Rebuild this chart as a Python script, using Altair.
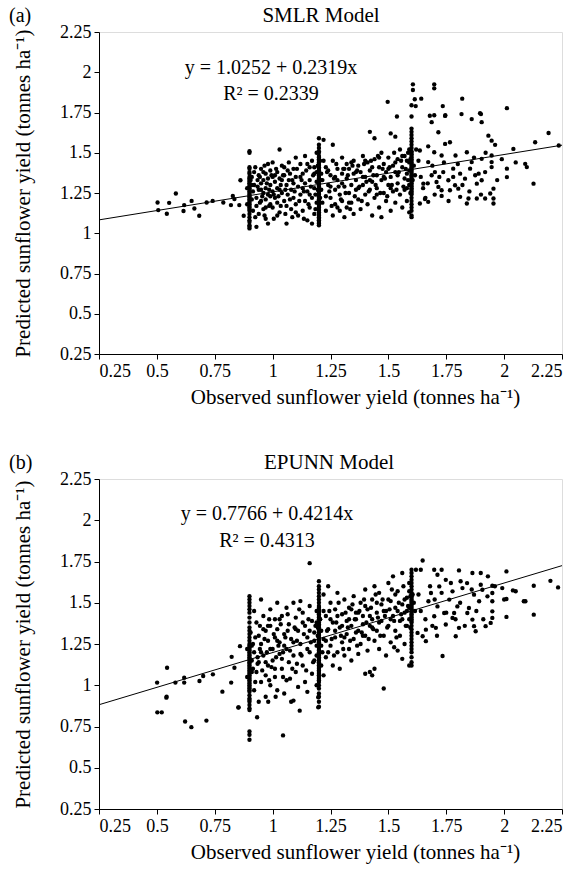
import altair as alt
import pandas as pd

FONT = "Liberation Serif"

# ---------------- Panel (a): SMLR Model ----------------
a_left = [(0.503, 1.191), (0.506, 1.144), (0.553, 1.189), (0.543, 1.121), (0.582, 1.247),
          (0.618, 1.175), (0.615, 1.138), (0.650, 1.201), (0.662, 1.154), (0.683, 1.109),
          (0.715, 1.191), (0.741, 1.201), (0.787, 1.191), (0.820, 1.175), (0.828, 1.232),
          (0.835, 1.212), (0.856, 1.175), (0.861, 1.329), (0.875, 1.109)]
a_col_090 = [1.51, 1.50, 1.41, 1.40, 1.38, 1.37, 1.35, 1.34, 1.33, 1.32, 1.31, 1.30, 1.29, 1.28,
             1.27, 1.26, 1.25, 1.24, 1.23, 1.22, 1.21, 1.20, 1.19, 1.18, 1.17, 1.16, 1.15, 1.14,
             1.12, 1.10, 1.08, 1.07, 1.05, 1.04, 1.03]
a_mid1 = [(0.92, 1.38), (0.92, 1.30), (0.93, 1.22), (0.93, 1.17), (0.93, 1.04), (0.94, 1.36),
          (0.94, 1.27), (0.94, 1.12), (0.95, 1.40), (0.95, 1.31), (0.95, 1.20), (0.96, 1.33),
          (0.96, 1.25), (0.96, 1.15), (0.97, 1.37), (0.97, 1.28), (0.97, 1.21), (0.97, 1.09),
          (0.98, 1.06), (0.98, 1.34), (0.98, 1.24), (0.99, 1.39), (0.99, 1.30), (0.99, 1.18),
          (1.00, 1.44), (1.00, 1.35), (1.00, 1.26), (1.00, 1.16), (1.01, 1.32), (1.01, 1.22),
          (1.02, 1.38), (1.02, 1.28), (1.02, 1.19), (1.03, 1.52), (1.03, 1.34), (1.03, 1.13),
          (1.04, 1.42), (1.04, 1.25), (1.05, 1.36), (1.05, 1.20), (1.06, 1.30), (1.06, 1.06),
          (1.06, 1.17), (1.07, 1.44), (1.07, 1.33), (1.08, 1.27), (1.08, 1.15), (1.09, 1.40),
          (1.09, 1.22), (1.10, 1.47), (1.10, 1.35), (1.10, 1.18), (1.11, 1.29), (1.11, 1.11),
          (1.12, 1.43), (1.12, 1.24), (1.13, 1.37), (1.13, 1.14), (1.14, 1.48), (1.14, 1.31),
          (1.14, 1.20), (1.15, 1.26), (1.15, 1.08), (1.16, 1.41), (1.16, 1.33), (1.16, 1.16),
          (1.17, 1.45), (1.17, 1.22), (1.17, 1.06), (1.18, 1.37), (1.18, 1.28), (1.18, 1.12),
          (1.19, 1.50), (1.19, 1.19)]
a_mid1b = [(0.905, 1.33), (0.915, 1.26), (0.915, 1.14), (0.925, 1.41), (0.935, 1.29),
           (0.945, 1.19), (0.945, 1.35), (0.955, 1.23), (0.965, 1.42), (0.965, 1.11),
           (0.975, 1.31), (0.985, 1.17), (0.985, 1.27), (0.995, 1.36), (1.005, 1.24),
           (1.005, 1.09), (1.015, 1.40), (1.025, 1.23), (1.035, 1.30), (1.035, 1.17),
           (1.045, 1.36), (1.055, 1.27), (1.055, 1.12), (1.065, 1.39), (1.075, 1.21),
           (1.085, 1.33), (1.085, 1.10), (1.095, 1.26), (1.105, 1.40), (1.115, 1.20),
           (1.125, 1.33), (1.135, 1.26), (1.135, 1.09), (1.145, 1.39), (1.155, 1.18),
           (1.165, 1.29), (1.175, 1.36), (1.185, 1.24), (1.185, 1.15), (1.195, 1.42)]
a_col_120 = [1.59, 1.55, 1.53, 1.51, 1.50, 1.48, 1.47, 1.46, 1.45, 1.44, 1.43, 1.42, 1.41, 1.40,
             1.39, 1.38, 1.37, 1.36, 1.35, 1.34, 1.33, 1.32, 1.31, 1.30, 1.29, 1.28, 1.27, 1.26,
             1.25, 1.24, 1.23, 1.22, 1.21, 1.20, 1.19, 1.18, 1.17, 1.16, 1.15, 1.14, 1.13, 1.12,
             1.11, 1.10, 1.09, 1.08, 1.07, 1.06, 1.05]
a_mid2 = [(1.22, 1.58), (1.23, 1.41), (1.23, 1.14), (1.24, 1.30), (1.25, 1.36), (1.25, 1.22),
          (1.26, 1.55), (1.26, 1.45), (1.26, 1.11), (1.27, 1.27), (1.27, 1.18), (1.28, 1.40),
          (1.28, 1.33), (1.29, 1.24), (1.29, 1.14), (1.30, 1.47), (1.30, 1.37), (1.30, 1.20),
          (1.31, 1.29), (1.31, 1.10), (1.32, 1.43), (1.32, 1.34), (1.32, 1.16), (1.33, 1.25),
          (1.33, 1.40), (1.34, 1.30), (1.34, 1.19), (1.35, 1.45), (1.35, 1.37), (1.35, 1.12),
          (1.36, 1.27), (1.36, 1.33), (1.37, 1.42), (1.37, 1.21), (1.38, 1.38), (1.38, 1.15),
          (1.39, 1.48), (1.39, 1.30), (1.40, 1.24), (1.40, 1.35), (1.41, 1.44), (1.41, 1.18),
          (1.42, 1.63), (1.42, 1.39), (1.42, 1.27), (1.43, 1.32), (1.43, 1.11), (1.44, 1.59),
          (1.44, 1.46), (1.44, 1.22), (1.45, 1.36), (1.45, 1.28), (1.46, 1.41), (1.46, 1.16),
          (1.47, 1.50), (1.47, 1.33), (1.47, 1.10), (1.48, 1.25), (1.48, 1.43), (1.49, 1.38),
          (1.49, 1.20), (1.50, 1.47), (1.50, 1.30), (1.51, 1.62), (1.51, 1.35), (1.51, 1.14),
          (1.52, 1.42), (1.52, 1.26), (1.53, 1.60), (1.53, 1.38), (1.53, 1.19), (1.54, 1.46),
          (1.54, 1.31), (1.55, 1.52), (1.55, 1.24), (1.56, 1.41), (1.56, 1.16), (1.57, 1.48),
          (1.57, 1.34), (1.58, 1.45), (1.58, 1.28), (1.58, 1.20), (1.59, 1.39), (1.59, 1.52),
          (1.59, 1.13)]
a_mid2b = [(1.205, 1.45), (1.215, 1.33), (1.215, 1.19), (1.235, 1.38), (1.245, 1.26),
           (1.255, 1.17), (1.265, 1.34), (1.275, 1.43), (1.285, 1.29), (1.295, 1.21),
           (1.305, 1.40), (1.315, 1.25), (1.325, 1.36), (1.335, 1.15), (1.345, 1.42),
           (1.355, 1.23), (1.365, 1.39), (1.375, 1.29), (1.385, 1.20), (1.395, 1.43),
           (1.405, 1.32), (1.415, 1.26), (1.425, 1.45), (1.435, 1.36), (1.445, 1.30),
           (1.455, 1.48), (1.465, 1.25), (1.475, 1.40), (1.485, 1.34), (1.495, 1.23),
           (1.505, 1.41), (1.515, 1.30), (1.525, 1.50), (1.535, 1.27), (1.545, 1.38),
           (1.555, 1.45), (1.565, 1.29), (1.575, 1.40), (1.585, 1.33), (1.595, 1.46)]
a_mid3 = [(0.91, 1.35), (0.91, 1.21), (0.925, 1.10), (0.935, 1.33), (0.95, 1.27), (0.96, 1.38),
          (0.97, 1.16), (0.98, 1.43), (0.99, 1.23), (1.01, 1.36), (1.02, 1.11), (1.03, 1.27),
          (1.04, 1.33), (1.05, 1.41), (1.065, 1.24), (1.075, 1.37), (1.09, 1.31), (1.10, 1.13),
          (1.12, 1.35), (1.13, 1.28), (1.15, 1.43), (1.16, 1.24), (1.18, 1.41), (1.19, 1.32),
          (1.21, 1.37), (1.21, 1.27), (1.22, 1.45), (1.23, 1.23), (1.24, 1.39), (1.25, 1.29),
          (1.27, 1.35), (1.28, 1.16), (1.30, 1.31), (1.31, 1.40), (1.33, 1.19), (1.34, 1.44),
          (1.36, 1.38), (1.37, 1.28), (1.39, 1.35), (1.40, 1.45), (1.42, 1.33), (1.43, 1.41),
          (1.45, 1.24), (1.46, 1.47), (1.48, 1.35), (1.50, 1.40), (1.51, 1.28), (1.53, 1.44),
          (1.54, 1.36), (1.56, 1.48), (1.57, 1.27), (1.58, 1.37), (1.59, 1.44), (1.61, 1.42),
          (1.615, 1.36), (1.59, 1.30), (1.585, 1.50), (1.19, 1.38), (1.21, 1.33), (0.89, 1.28),
          (0.89, 1.18), (0.91, 1.30), (1.195, 1.27), (1.205, 1.22), (1.605, 1.33), (1.595, 1.25)]
a_col_160 = [1.65, 1.63, 1.61, 1.59, 1.57, 1.55, 1.53, 1.51, 1.50, 1.49, 1.48, 1.47, 1.46, 1.45,
             1.44, 1.43, 1.42, 1.41, 1.40, 1.39, 1.38, 1.37, 1.36, 1.35, 1.34, 1.33, 1.32, 1.31,
             1.30, 1.29, 1.28, 1.27, 1.26, 1.25, 1.24, 1.22, 1.20, 1.18, 1.16, 1.14, 1.11, 1.10]
a_top = [(1.497, 1.816), (1.606, 1.925), (1.606, 1.89), (1.698, 1.925), (1.698, 1.90),
         (1.614, 1.832), (1.642, 1.836), (1.618, 1.79), (1.60, 1.795), (1.735, 1.79),
         (1.819, 1.836), (2.012, 1.777), (1.537, 1.725), (1.60, 1.725), (1.698, 1.733),
         (1.746, 1.733), (1.90, 1.74)]
a_right = [(1.636, 1.514), (1.672, 1.54), (1.679, 1.73), (1.687, 1.69), (1.716, 1.627),
           (1.745, 1.729), (1.745, 1.555), (1.766, 1.565), (1.816, 1.74), (1.86, 1.709),
           (1.896, 1.746), (1.903, 1.69), (1.932, 1.606), (1.946, 1.575), (1.961, 1.549),
           (2.04, 1.524), (2.098, 1.411), (2.134, 1.565), (2.192, 1.623), (2.236, 1.545),
           (2.127, 1.308), (2.091, 1.431), (2.012, 1.401), (2.012, 1.349), (1.954, 1.277),
           (1.954, 1.216), (1.954, 1.185), (1.94, 1.247), (1.918, 1.216), (1.882, 1.308),
           (1.882, 1.216), (1.846, 1.216), (1.839, 1.185), (1.81, 1.226), (1.802, 1.277),
           (1.766, 1.267), (1.73, 1.267), (1.73, 1.232), (1.708, 1.318), (1.687, 1.36),
           (1.672, 1.195), (1.658, 1.212), (1.636, 1.185), (1.651, 1.308), (1.672, 1.442),
           (1.701, 1.38), (1.737, 1.38), (1.78, 1.401), (1.81, 1.37), (1.853, 1.401),
           (1.875, 1.36), (1.903, 1.329), (1.918, 1.38), (1.946, 1.411), (1.946, 1.442),
           (1.946, 1.483), (1.903, 1.462), (1.86, 1.442), (1.839, 1.503), (1.79, 1.483),
           (1.73, 1.483), (1.698, 1.503), (1.89, 1.37), (1.831, 1.339), (1.759, 1.329),
           (1.716, 1.288), (1.788, 1.298), (1.99, 1.46), (1.63, 1.45), (1.64, 1.35),
           (1.65, 1.28), (1.62, 1.52), (1.66, 1.22), (1.67, 1.31), (1.69, 1.42), (1.70, 1.24),
           (1.72, 1.35), (1.74, 1.44), (1.76, 1.20), (1.78, 1.35), (1.80, 1.43), (1.82, 1.30),
           (1.85, 1.26), (1.87, 1.47), (1.90, 1.24), (1.92, 1.50), (1.97, 1.33), (2.05, 1.44)]
a_line_x = [0.25, 2.25]
a_line_y = [1.083, 1.547]
a_eq = ["y = 1.0252 + 0.2319x", "R\u00b2 = 0.2339"]

# ---------------- Panel (b): EPUNN Model ----------------
b_left = [(0.501, 1.016), (0.544, 1.106), (0.541, 0.925), (0.58, 1.016), (0.618, 1.016),
          (0.618, 1.046), (0.684, 1.026), (0.70, 1.056), (0.742, 1.066), (0.783, 0.961),
          (0.821, 1.016), (0.823, 1.172), (0.835, 1.106), (0.859, 1.237), (0.852, 0.865),
          (0.502, 0.836), (0.521, 0.836), (0.542, 0.93), (0.622, 0.78), (0.649, 0.746),
          (0.714, 0.786)]
b_low = [(0.853, 0.866), (0.933, 0.806), (1.045, 0.696), (0.981, 0.90), (1.013, 0.93),
         (1.09, 0.907), (1.117, 0.846), (1.197, 0.866), (1.197, 0.927)]
b_col_090 = [1.54, 1.52, 1.50, 1.48, 1.46, 1.44, 1.41, 1.38, 1.35, 1.33, 1.31, 1.29, 1.27, 1.25,
             1.24, 1.23, 1.22, 1.21, 1.20, 1.19, 1.18, 1.17, 1.16, 1.15, 1.14, 1.13, 1.12, 1.11,
             1.10, 1.09, 1.08, 1.07, 1.06, 1.05, 1.04, 1.03, 1.02, 1.01, 1.00, 0.99, 0.98, 0.97,
             0.96, 0.94, 0.92, 0.91, 0.90, 0.88, 0.86, 0.85, 0.72, 0.70, 0.67]
b_mid1 = [(0.92, 1.45), (0.92, 1.20), (0.92, 0.97), (0.93, 1.38), (0.93, 1.08), (0.94, 1.30),
          (0.94, 1.14), (0.94, 0.90), (0.95, 1.52), (0.95, 1.25), (0.95, 1.02), (0.96, 1.42),
          (0.96, 1.18), (0.97, 1.33), (0.97, 1.06), (0.97, 0.93), (0.98, 1.27), (0.98, 1.12),
          (0.99, 1.46), (0.99, 1.36), (0.99, 1.00), (1.00, 1.22), (1.00, 1.15), (1.01, 1.40),
          (1.01, 1.29), (1.01, 1.05), (1.02, 1.50), (1.02, 1.34), (1.02, 0.97), (1.03, 1.19),
          (1.03, 1.26), (1.04, 1.42), (1.04, 1.10), (1.05, 1.31), (1.05, 0.95), (1.06, 1.47),
          (1.06, 1.22), (1.06, 1.03), (1.07, 1.37), (1.07, 1.14), (1.08, 1.28), (1.08, 0.90),
          (1.09, 1.50), (1.09, 1.18), (1.10, 1.41), (1.10, 1.08), (1.11, 1.33), (1.11, 0.99),
          (1.12, 1.25), (1.12, 1.51), (1.13, 1.44), (1.13, 1.12), (1.14, 1.36), (1.14, 1.02),
          (1.15, 1.29), (1.15, 0.96), (1.16, 1.48), (1.16, 1.20), (1.17, 1.39), (1.17, 1.07),
          (1.18, 1.32), (1.18, 1.15), (1.19, 1.45), (1.19, 1.24), (1.19, 1.00), (1.16, 1.74)]
b_mid1b = [(0.905, 1.32), (0.915, 1.10), (0.915, 1.25), (0.925, 1.02), (0.935, 1.17),
           (0.945, 1.36), (0.955, 1.09), (0.965, 1.28), (0.975, 1.20), (0.985, 1.40),
           (0.995, 1.11), (1.005, 1.31), (1.015, 1.17), (1.025, 1.24), (1.035, 1.37),
           (1.045, 1.05), (1.055, 1.29), (1.065, 1.43), (1.075, 1.21), (1.085, 1.10),
           (1.095, 1.35), (1.105, 1.27), (1.115, 1.46), (1.125, 1.18), (1.135, 1.31),
           (1.145, 1.09), (1.155, 1.40), (1.165, 1.26), (1.175, 1.14), (1.185, 1.36),
           (1.195, 1.30), (1.105, 1.13), (1.045, 1.20), (0.985, 1.03), (0.945, 1.22)]
b_col_120 = [1.63, 1.60, 1.58, 1.56, 1.54, 1.52, 1.50, 1.48, 1.47, 1.46, 1.45, 1.44, 1.43, 1.42,
             1.41, 1.40, 1.38, 1.37, 1.36, 1.35, 1.34, 1.33, 1.32, 1.31, 1.30, 1.29, 1.28, 1.27,
             1.26, 1.25, 1.24, 1.23, 1.22, 1.21, 1.20, 1.19, 1.18, 1.17, 1.16, 1.15, 1.14, 1.13,
             1.12, 1.11, 1.10, 1.09, 1.08, 1.07, 1.06, 1.05, 1.04, 1.03, 1.02, 1.00, 0.98, 0.95,
             0.93, 0.90, 0.87]
b_mid2 = [(1.22, 1.55), (1.22, 1.28), (1.22, 1.06), (1.23, 1.42), (1.23, 1.17), (1.24, 1.60),
          (1.24, 1.34), (1.25, 1.24), (1.25, 1.50), (1.26, 1.12), (1.26, 1.38), (1.27, 1.46),
          (1.27, 1.29), (1.28, 1.20), (1.28, 1.56), (1.29, 1.35), (1.29, 1.10), (1.30, 1.43),
          (1.30, 1.26), (1.31, 1.52), (1.31, 1.18), (1.32, 1.39), (1.32, 1.31), (1.33, 1.47),
          (1.33, 1.22), (1.34, 1.36), (1.34, 1.15), (1.35, 1.54), (1.35, 1.28), (1.36, 1.44),
          (1.36, 1.40), (1.37, 1.33), (1.37, 1.19), (1.38, 1.50), (1.38, 1.25), (1.39, 1.42),
          (1.39, 1.37), (1.40, 1.58), (1.40, 1.30), (1.41, 1.46), (1.41, 1.21), (1.42, 1.36),
          (1.42, 1.08), (1.43, 1.52), (1.43, 1.40), (1.44, 1.27), (1.44, 1.60), (1.45, 1.44),
          (1.45, 1.33), (1.46, 1.56), (1.46, 1.22), (1.47, 1.39), (1.47, 1.49), (1.48, 1.30),
          (1.48, 0.98), (1.49, 1.45), (1.49, 1.18), (1.50, 1.62), (1.50, 1.36), (1.51, 1.51),
          (1.51, 1.26), (1.52, 1.42), (1.52, 1.66), (1.53, 1.33), (1.53, 1.47), (1.54, 1.21),
          (1.54, 1.57), (1.55, 1.39), (1.55, 1.30), (1.56, 1.68), (1.56, 1.49), (1.56, 1.16),
          (1.57, 1.44), (1.57, 1.25), (1.58, 1.53), (1.58, 1.36), (1.59, 1.47), (1.59, 1.12),
          (1.59, 1.62), (1.40, 1.07), (1.43, 1.06), (1.44, 1.10)]
b_mid2b = [(1.205, 1.40), (1.215, 1.20), (1.235, 1.33), (1.245, 1.45), (1.255, 1.28),
           (1.265, 1.18), (1.275, 1.38), (1.285, 1.50), (1.295, 1.30), (1.305, 1.22),
           (1.315, 1.44), (1.325, 1.35), (1.335, 1.27), (1.345, 1.49), (1.355, 1.40),
           (1.365, 1.24), (1.375, 1.45), (1.385, 1.32), (1.395, 1.52), (1.405, 1.38),
           (1.415, 1.28), (1.425, 1.47), (1.435, 1.34), (1.445, 1.55), (1.455, 1.41),
           (1.465, 1.30), (1.475, 1.52), (1.485, 1.42), (1.495, 1.35), (1.505, 1.46),
           (1.515, 1.58), (1.525, 1.39), (1.535, 1.29), (1.545, 1.50), (1.555, 1.43),
           (1.565, 1.60), (1.575, 1.36), (1.585, 1.48), (1.595, 1.54), (1.525, 1.23)]
b_mid3 = [(0.91, 1.24), (0.91, 1.08), (0.925, 1.29), (0.935, 1.13), (0.95, 1.20), (0.96, 1.34),
          (0.97, 1.14), (0.98, 1.36), (0.99, 1.22), (1.01, 1.10), (1.02, 1.27), (1.03, 1.40),
          (1.04, 1.16), (1.05, 1.24), (1.065, 1.33), (1.075, 1.04), (1.09, 1.26), (1.10, 1.34),
          (1.12, 1.19), (1.13, 1.38), (1.15, 1.22), (1.16, 1.33), (1.18, 1.27), (1.19, 1.38),
          (1.21, 1.33), (1.21, 1.24), (1.22, 1.45), (1.23, 1.27), (1.24, 1.20), (1.25, 1.40),
          (1.27, 1.33), (1.28, 1.42), (1.30, 1.36), (1.31, 1.29), (1.33, 1.40), (1.34, 1.46),
          (1.36, 1.32), (1.37, 1.44), (1.39, 1.30), (1.40, 1.48), (1.42, 1.42), (1.43, 1.35),
          (1.45, 1.50), (1.46, 1.38), (1.48, 1.45), (1.50, 1.52), (1.51, 1.40), (1.53, 1.55),
          (1.54, 1.45), (1.56, 1.40), (1.57, 1.52), (1.58, 1.45), (1.59, 1.40), (1.61, 1.50),
          (1.615, 1.45), (1.59, 1.57), (1.19, 1.18), (1.21, 1.12), (0.89, 1.22), (0.89, 1.05),
          (0.91, 1.15), (1.195, 1.35), (1.205, 1.40), (1.605, 1.55), (1.595, 1.35)]
b_col_160 = [1.70, 1.68, 1.66, 1.64, 1.62, 1.60, 1.58, 1.56, 1.55, 1.54, 1.53, 1.52, 1.51, 1.50,
             1.49, 1.48, 1.47, 1.46, 1.45, 1.44, 1.43, 1.42, 1.41, 1.40, 1.39, 1.38, 1.36, 1.34,
             1.32, 1.30, 1.28, 1.26, 1.24, 1.22, 1.20, 1.17, 1.14, 1.12]
b_right = [(1.648, 1.756), (1.619, 1.70), (1.64, 1.70), (1.698, 1.70), (1.712, 1.67),
           (1.73, 1.70), (1.748, 1.639), (1.805, 1.696), (1.812, 1.63), (1.863, 1.68),
           (1.899, 1.68), (2.01, 1.69), (2.128, 1.603), (2.20, 1.633), (2.233, 1.593),
           (2.085, 1.509), (2.092, 1.509), (2.128, 1.428), (2.01, 1.414), (2.01, 1.523),
           (2.038, 1.575), (1.949, 1.603), (1.949, 1.559), (1.949, 1.509), (1.949, 1.448),
           (1.949, 1.408), (1.942, 1.378), (1.92, 1.358), (1.892, 1.509), (1.87, 1.549),
           (1.848, 1.468), (1.841, 1.438), (1.863, 1.398), (1.87, 1.358), (1.877, 1.327),
           (1.798, 1.478), (1.784, 1.438), (1.791, 1.297), (1.777, 1.408), (1.805, 1.348),
           (1.741, 1.438), (1.748, 1.368), (1.734, 1.177), (1.712, 1.478), (1.698, 1.418),
           (1.705, 1.348), (1.673, 1.509), (1.662, 1.337), (1.662, 1.267), (1.648, 1.297),
           (1.626, 1.317), (1.684, 1.559), (1.72, 1.599), (1.763, 1.519), (1.82, 1.589),
           (1.899, 1.609), (1.928, 1.539), (1.906, 1.579), (1.992, 1.589), (1.777, 1.569),
           (1.84, 1.619), (1.63, 1.55), (1.64, 1.45), (1.66, 1.40), (1.68, 1.60), (1.69, 1.36),
           (1.70, 1.52), (1.71, 1.30), (1.73, 1.56), (1.75, 1.44), (1.77, 1.62), (1.79, 1.40),
           (1.81, 1.50), (1.83, 1.36), (1.86, 1.58), (1.88, 1.45), (1.91, 1.40), (1.93, 1.66),
           (1.96, 1.60), (2.00, 1.52), (2.05, 1.57)]
b_line_x = [0.25, 2.25]
b_line_y = [0.882, 1.725]
b_eq = ["y = 0.7766 + 0.4214x", "R\u00b2 = 0.4313"]

ticks = [0.25, 0.5, 0.75, 1.0, 1.25, 1.5, 1.75, 2.0, 2.25]
X_TITLE = "Observed sunflower yield (tonnes ha\u207b\u00b9)"
Y_TITLE = "Predicted sunflower yield (tonnes ha\u207b\u00b9)"


def points_frame(groups, cols):
    xs, ys = [], []
    for g in groups:
        for px, py in g:
            xs.append(px)
            ys.append(py)
    for cx, vals in cols:
        for v in vals:
            xs.append(cx)
            ys.append(v)
    return pd.DataFrame({"obs": xs, "pred": ys})


def axis(title, pad, **kw):
    return alt.Axis(values=ticks, labelExpr="'' + datum.value", title=title, grid=False,
                    domainColor="black", tickColor="black", tickSize=5,
                    labelFont=FONT, labelFontSize=18, labelColor="black",
                    titleFont=FONT, titleFontSize=21, titleFontWeight="normal",
                    titleColor="black", titlePadding=pad, labelPadding=3, **kw)


def panel(df, lx, ly, eq, eq_pos, letter, title, title_dx, h):
    xs = alt.Scale(domain=[0.25, 2.25], nice=False, zero=False)
    ys = alt.Scale(domain=[0.25, 2.25], nice=False, zero=False)
    pts = alt.Chart(df).mark_circle(size=19, color="black", opacity=1).encode(
        x=alt.X("obs:Q", scale=xs, axis=axis(X_TITLE, 6, titleX=256, titleAlign="center")),
        y=alt.Y("pred:Q", scale=ys, axis=axis(Y_TITLE, 26)),
    )
    line = alt.Chart(pd.DataFrame({"obs": lx, "pred": ly})).mark_line(
        color="black", strokeWidth=1).encode(x="obs:Q", y="pred:Q")
    t1 = alt.Chart(pd.DataFrame({"t": [eq[0]]})).mark_text(
        font=FONT, fontSize=20, color="black").encode(
        text="t:N", x=alt.datum(eq_pos[0]), y=alt.datum(eq_pos[1]))
    t2 = alt.Chart(pd.DataFrame({"t": [eq[1]]})).mark_text(
        font=FONT, fontSize=20, color="black").encode(
        text="t:N", x=alt.datum(eq_pos[0]), y=alt.datum(eq_pos[2]))
    lab = alt.Chart(pd.DataFrame({"t": [letter]})).mark_text(
        font=FONT, fontSize=20, color="black", align="left", baseline="alphabetic").encode(
        text="t:N", x=alt.value(-90), y=alt.value(-10))
    ttl = alt.Chart(pd.DataFrame({"t": [title]})).mark_text(
        font=FONT, fontSize=21, color="black", align="center", baseline="alphabetic").encode(
        text="t:N", x=alt.value(title_dx), y=alt.value(-10))
    return alt.layer(line, pts, t1, t2, lab, ttl).properties(width=463, height=h)


df_a = points_frame([a_left, a_mid1, a_mid1b, a_mid3, a_mid2, a_mid2b, a_top, a_right],
                    [(0.9, a_col_090), (1.2, a_col_120), (1.6, a_col_160)])
df_b = points_frame([b_left, b_low, b_mid1, b_mid1b, b_mid3, b_mid2, b_mid2b, b_right],
                    [(0.9, b_col_090), (1.2, b_col_120), (1.6, b_col_160)])

pa = panel(df_a, a_line_x, a_line_y, a_eq, (0.993, 2.026, 1.865), "(a)", "SMLR Model", 222, 322)
pb = panel(df_b, b_line_x, b_line_y, b_eq, (0.976, 2.038, 1.874), "(b)", "EPUNN Model", 230, 330)

chart = alt.vconcat(pa, pb, spacing=43).properties(
    padding={"left": 8, "top": 4, "right": 10, "bottom": 2}
).configure_view(stroke="#999999", strokeWidth=1).configure(background="white")

chart.save("out.html", embed_options={"renderer": "svg", "actions": False})
